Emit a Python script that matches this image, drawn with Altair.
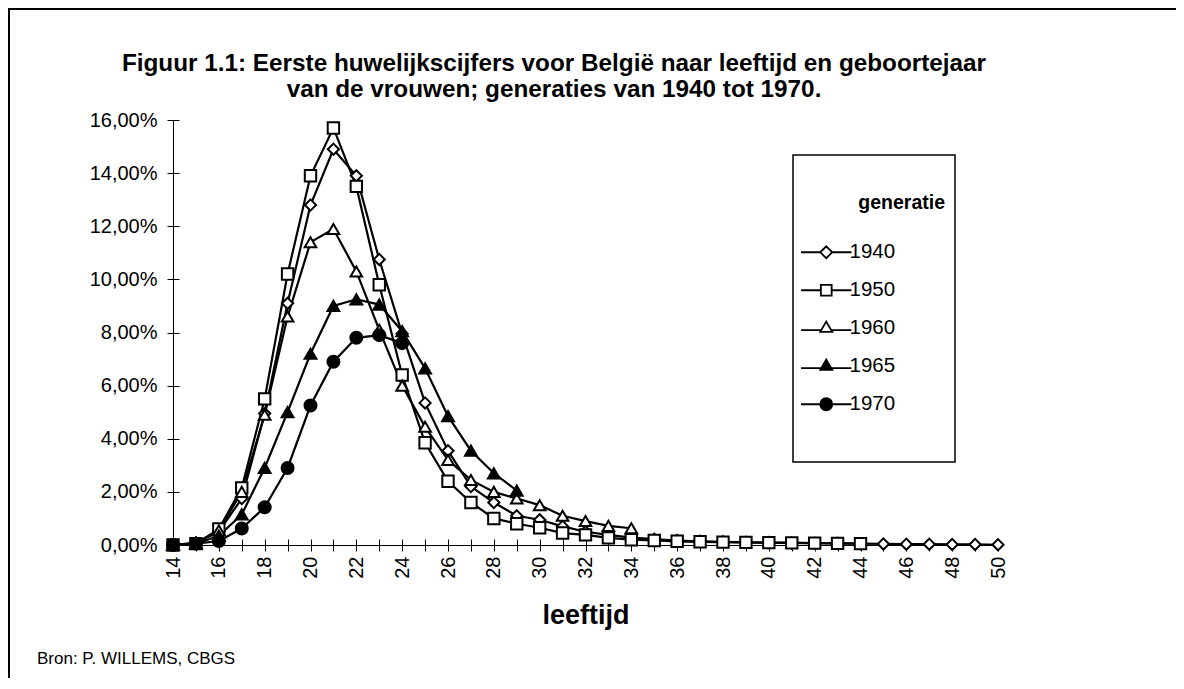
import altair as alt
import pandas as pd

FONT = "Liberation Sans"

generations = ["1940", "1950", "1960", "1965", "1970"]

ages_1940 = list(range(14, 51))
pct_1940 = [0.00, 0.08, 0.50, 1.75, 4.95, 9.10, 12.80, 14.90, 13.90, 10.75, 7.95, 5.35,
            3.55, 2.20, 1.60, 1.10, 0.95, 0.70, 0.50, 0.38, 0.28, 0.22, 0.17, 0.14,
            0.12, 0.10, 0.09, 0.08, 0.07, 0.06, 0.05, 0.04, 0.03, 0.03, 0.02, 0.02, 0.01]

ages_1950 = list(range(14, 45))
pct_1950 = [0.00, 0.05, 0.60, 2.15, 5.50, 10.20, 13.90, 15.70, 13.50, 9.80, 6.40, 3.85,
            2.40, 1.60, 1.00, 0.80, 0.65, 0.45, 0.38, 0.27, 0.20, 0.17, 0.14, 0.12,
            0.11, 0.10, 0.09, 0.08, 0.07, 0.06, 0.05]

ages_1960 = list(range(14, 35))
pct_1960 = [0.00, 0.08, 0.55, 2.00, 4.90, 8.60, 11.40, 11.90, 10.30, 8.10, 6.00, 4.45,
            3.20, 2.45, 2.00, 1.75, 1.50, 1.10, 0.90, 0.72, 0.63]

ages_1965 = list(range(14, 30))
pct_1965 = [0.00, 0.05, 0.35, 1.15, 2.90, 5.00, 7.20, 9.00, 9.25, 9.05, 8.05, 6.65,
            4.85, 3.55, 2.70, 2.05]

ages_1970 = list(range(14, 25))
pct_1970 = [0.00, 0.05, 0.15, 0.62, 1.42, 2.90, 5.25, 6.90, 7.80, 7.90, 7.60]

x_ticks = list(range(14, 51))
y_ticks = [0, 2, 4, 6, 8, 10, 12, 14, 16]

title_line1 = "Figuur 1.1: Eerste huwelijkscijfers voor België naar leeftijd en geboortejaar"
title_line2 = "van de vrouwen; generaties van 1940 tot 1970."
legend_title = "generatie"
source_text = "Bron: P. WILLEMS, CBGS"

shapes = ["diamond", "square", "triangle-up", "triangle-up", "circle"]
fills = ["white", "white", "white", "black", "black"]
strokes = ["black", "black", "black", "black", "black"]
sizes = [125, 144, 165, 165, 150]
legend_paths = [
    "M-4.2,0H-1M1,0H4.2M-1,0L0,-1L1,0L0,1Z",
    "M-4.2,0H-0.9M0.9,0H4.2M-0.9,-0.9H0.9V0.9H-0.9Z",
    "M-4.2,0.3H-0.82M0.82,0.3H4.2M0,-1.1L1,0.6L-1,0.6Z",
    "M-4.2,0.3H-0.82M0.82,0.3H4.2M0,-1.1L1,0.6L-1,0.6Z",
    "M-4.2,0H-1M1,0H4.2M-1,0A1,1,0,1,1,1,0A1,1,0,1,1,-1,0Z",
]

rows = []
for g, ages, vals in [("1940", ages_1940, pct_1940), ("1950", ages_1950, pct_1950),
                      ("1960", ages_1960, pct_1960), ("1965", ages_1965, pct_1965),
                      ("1970", ages_1970, pct_1970)]:
    for a, v in zip(ages, vals):
        rows.append({"gen": g, "age": a, "pct": v})
df = pd.DataFrame(rows)

W, H = 825, 425
xscale = alt.Scale(domain=[14, 50], nice=False, zero=False)
yscale = alt.Scale(domain=[0, 16], nice=False)

one = alt.Data(values=[{"k": 0}])

frame = alt.Chart(one).mark_rect(fillOpacity=0, stroke="black", strokeWidth=2).encode(
    x=alt.value(-164), x2=alt.value(1040), y=alt.value(-111), y2=alt.value(620))

legend_box = alt.Chart(one).mark_rect(fill="white", stroke="black", strokeWidth=1.5).encode(
    x=alt.value(620), x2=alt.value(782), y=alt.value(35), y2=alt.value(342))

title1 = alt.Chart(one).mark_text(text=title_line1, font=FONT, fontSize=24.3, fontWeight="bold",
                                  align="center", baseline="alphabetic", color="black").encode(
    x=alt.value(381), y=alt.value(-49.5))
title2 = alt.Chart(one).mark_text(text=title_line2, font=FONT, fontSize=24.3, fontWeight="bold",
                                  align="center", baseline="alphabetic", color="black").encode(
    x=alt.value(381), y=alt.value(-23.5))

leg_title = alt.Chart(one).mark_text(text=legend_title, font=FONT, fontSize=19.5, fontWeight="bold",
                                     align="right", baseline="middle", color="black").encode(
    x=alt.value(772), y=alt.value(83))

source = alt.Chart(one).mark_text(text=source_text, font=FONT, fontSize=17, align="left",
                                   baseline="middle", color="black").encode(
    x=alt.value(-136), y=alt.value(539))

x_axis_main = alt.Axis(values=x_ticks, labelExpr="datum.value % 2 == 0 ? datum.label : ''",
                       labelAngle=-90, labelOverlap=False, tickSize=6, labelPadding=5,
                       title="leeftijd", titleFontSize=27, titleFontWeight="bold", titlePadding=24,
                       grid=False, labelFontSize=20, labelFont=FONT, titleFont=FONT,
                       domainColor="black", tickColor="black", labelColor="black", titleColor="black")
y_axis_main = alt.Axis(values=y_ticks, labelExpr="replace(format(datum.value, '.2f'), '.', ',') + '%'",
                       tickSize=6, labelPadding=10, title=None, grid=False, labelFontSize=20,
                       labelFont=FONT, domainColor="black", tickColor="black", labelColor="black")

lines = alt.Chart(df).mark_line(color="black", strokeWidth=2.2).encode(
    x=alt.X("age:Q", scale=xscale, axis=x_axis_main),
    y=alt.Y("pct:Q", scale=yscale, axis=y_axis_main),
    detail="gen:N",
)

x_axis_ticks = alt.Axis(orient="top", offset=-H, values=x_ticks, labels=False, domain=False,
                        tickSize=6, grid=False, title=None, tickColor="black")
y_axis_ticks = alt.Axis(orient="right", offset=-W, values=y_ticks, labels=False, domain=False,
                        tickSize=6, grid=False, title=None, tickColor="black")

points = alt.Chart(df).mark_point(filled=True, stroke="black", strokeWidth=2, opacity=1).encode(
    x=alt.X("age:Q", scale=xscale, axis=x_axis_ticks),
    y=alt.Y("pct:Q", scale=yscale, axis=y_axis_ticks),
    shape=alt.Shape("gen:N", scale=alt.Scale(domain=generations, range=shapes), legend=None),
    fill=alt.Fill("gen:N", scale=alt.Scale(domain=generations, range=fills), legend=None),
    size=alt.Size("gen:N", scale=alt.Scale(domain=generations, range=sizes), legend=None),
)

leg = alt.Legend(title=None, orient="none", legendX=643, legendY=122,
                 labelFont=FONT, labelFontSize=20.5, labelColor="black", labelOffset=13,
                 rowPadding=17, symbolSize=144, symbolStrokeWidth=1.8,
                 padding=0)

legend_layer = alt.Chart(df).transform_filter("datum.age < 0").mark_point(
    filled=True, strokeWidth=1.8, opacity=1).encode(
    x=alt.X("age:Q", scale=xscale, axis=None),
    y=alt.Y("pct:Q", scale=yscale, axis=None),
    shape=alt.Shape("gen:N", scale=alt.Scale(domain=generations, range=legend_paths), legend=leg),
    fill=alt.Fill("gen:N", scale=alt.Scale(domain=generations, range=fills), legend=leg),
    stroke=alt.Stroke("gen:N", scale=alt.Scale(domain=generations, range=strokes), legend=leg),
)

chart = alt.layer(frame, legend_box, title1, title2, leg_title, lines, points, legend_layer, source).resolve_scale(
    shape="independent", fill="independent", stroke="independent"
).resolve_axis(
    x="independent", y="independent"
).properties(
    width=W, height=H,
    padding={"left": 165, "top": 112, "right": 178, "bottom": 133},
    autosize=alt.AutoSizeParams(type="none"),
).configure_view(strokeWidth=0)

chart.save("out.html", embed_options={"renderer": "svg", "actions": False})
